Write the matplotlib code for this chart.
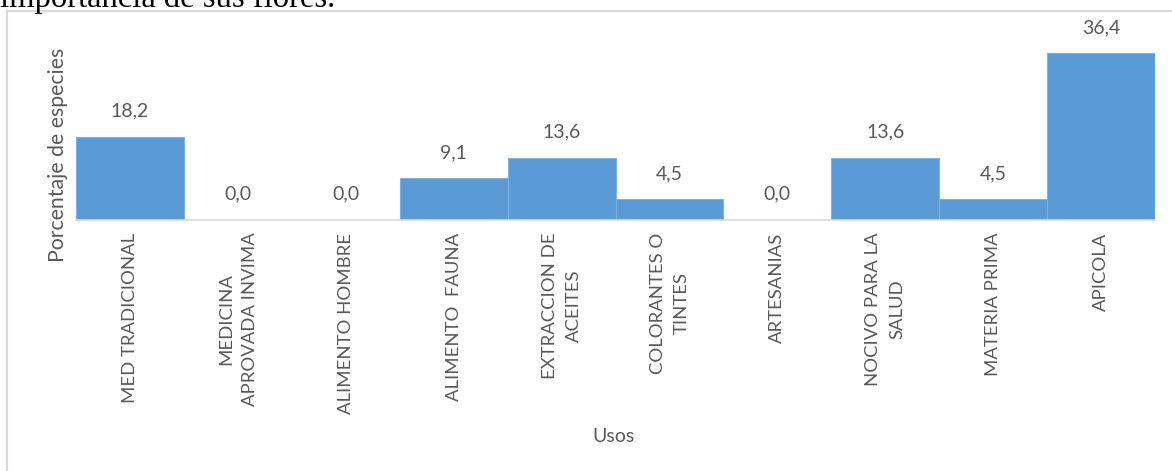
import matplotlib.pyplot as plt
from matplotlib.lines import Line2D

plt.rcParams['font.family'] = ['Lato', 'DejaVu Sans']

# porcentaje de especies por uso
usos = ['MED TRADICIONAL', 'MEDICINA\nAPROVADA INVIMA', 'ALIMENTO HOMBRE',
        'ALIMENTO  FAUNA', 'EXTRACCION DE\nACEITES', 'COLORANTES O\nTINTES',
        'ARTESANIAS', 'NOCIVO PARA LA\nSALUD', 'MATERIA PRIMA', 'APICOLA']
porcentaje = [18.2, 0.0, 0.0, 9.1, 13.6, 4.5, 0.0, 13.6, 4.5, 36.4]

W, H = 1172, 471
fig = plt.figure(figsize=(W / 100, H / 100), dpi=100)
ax = fig.add_axes([76 / W, 1 - 220 / H, (1155 - 76) / W, (220 - 37) / H])

gris = '#595959'
x = range(len(usos))
ax.bar(x, porcentaje, width=1.0, color='#5b9bd5', edgecolor='#7fb2e0', linewidth=0.8)
ax.set_xlim(-0.5, len(usos) - 0.5)
ax.set_ylim(0, 40)

for i, v in zip(x, porcentaje):
    ax.annotate(f'{v:.1f}'.replace('.', ','), (i, v), xytext=(0, 12.5),
                textcoords='offset points', ha='center', va='bottom',
                fontsize=14, color=gris)

ax.set_xticks(list(x))
ax.set_xticklabels(usos, rotation=90, ha='center', va='top', multialignment='center',
                   fontsize=13.3, color=gris, linespacing=1.6)
ax.tick_params(axis='x', length=0, pad=9)
ax.set_yticks([])
for lado in ['top', 'right', 'left']:
    ax.spines[lado].set_visible(False)
ax.spines['bottom'].set_color('#d9d9d9')
ax.spines['bottom'].set_linewidth(1.2)

fig.text(614 / W, 1 - 436 / H, 'Usos', ha='center', va='center', fontsize=14, color=gris)
fig.text(58 / W, 1 - 155 / H, 'Porcentaje de especies', rotation=90, ha='center',
         va='center', fontsize=15.3, color=gris)

# marco del gráfico
fig.add_artist(Line2D([7 / W, 7 / W], [0, 1 - 11 / H], transform=fig.transFigure,
                      color='#d9d9d9', linewidth=1.5))
fig.add_artist(Line2D([7 / W, 1], [1 - 11 / H, 1 - 11 / H], transform=fig.transFigure,
                      color='#d9d9d9', linewidth=1.5))

# texto del documento que queda por encima
fig.text(0.0, 1 - 7 / H, 'importancia de sus flores.', ha='left', va='baseline',
         fontsize=23.5, color='black', family='Liberation Serif')

fig.savefig('out.png', dpi=100)
